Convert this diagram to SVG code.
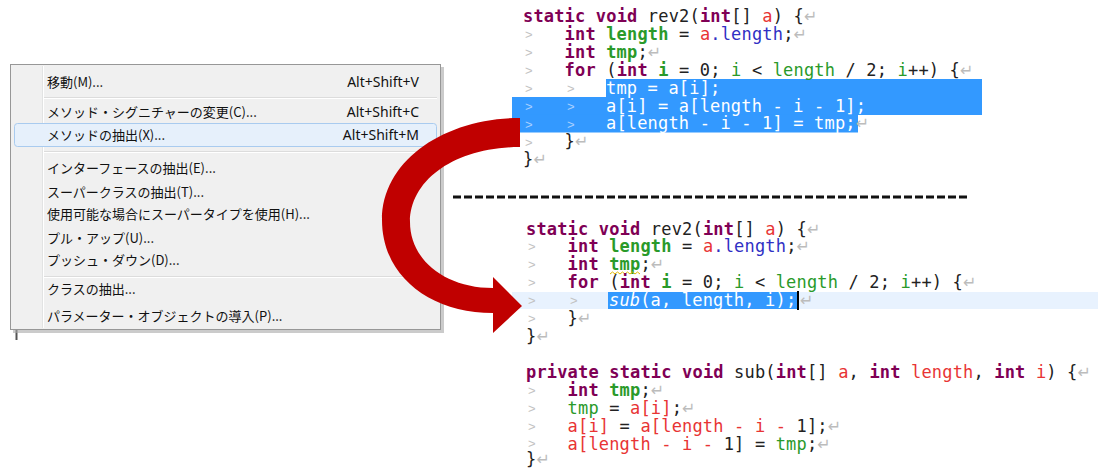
<svg xmlns="http://www.w3.org/2000/svg" width="1098" height="468" viewBox="0 0 1098 468">
<style>
.m{font-family:"Noto Sans CJK JP","Noto Sans",sans-serif;font-size:13px;fill:#111}
.sc{font-family:"Noto Sans","Liberation Sans",sans-serif;font-size:14px;fill:#111;text-anchor:end}
.c{font-family:"DejaVu Sans Mono","Liberation Mono",monospace;font-size:17px;letter-spacing:0.17px;fill:#222;white-space:pre}
.k{fill:#7f0055;font-weight:bold}
.g{fill:#2a9a2a}
.gb{fill:#2a9a2a;font-weight:bold}
.r{fill:#e83434}
.b{fill:#3030c4}
.n{fill:#bcbcbc;font-weight:normal;font-style:normal;font-family:"DejaVu Sans",sans-serif;font-size:16px}
.w{fill:#ffffff}
.t{font-family:"Liberation Sans",sans-serif;font-size:13px;fill:#c2c2c2}
.tw{font-family:"Liberation Sans",sans-serif;font-size:13px;fill:#a9d0ff}
.sep{stroke:#dcdcdc;stroke-width:1}
.sepw{stroke:#ffffff;stroke-width:1}
.sel{fill:#3399ff}
</style>

<g id="background">
  <rect x="0" y="0" width="1098" height="468" fill="#ffffff"/>
  <line x1="16.5" y1="328" x2="16.5" y2="340" stroke="#555" stroke-width="2"/>
</g>

<g id="menu">
  <rect x="13" y="67" width="431" height="266" fill="#a8a8a8" opacity="0.6"/>
  <rect x="10.5" y="64.5" width="430" height="265" fill="#f0f0f0" stroke="#979797"/>
  <line x1="42.5" y1="66" x2="42.5" y2="328" stroke="#e2e3e3"/>
  <line x1="43.5" y1="66" x2="43.5" y2="328" stroke="#ffffff"/>
  <line class="sep" x1="44" y1="97.5" x2="437" y2="97.5"/>
  <line class="sepw" x1="44" y1="98.5" x2="437" y2="98.5"/>
  <line class="sep" x1="44" y1="151.5" x2="437" y2="151.5"/>
  <line class="sepw" x1="44" y1="152.5" x2="437" y2="152.5"/>
  <line class="sep" x1="44" y1="276.5" x2="437" y2="276.5"/>
  <line class="sepw" x1="44" y1="277.5" x2="437" y2="277.5"/>
  <g id="item-move"><text class="m" x="47" y="87">移動(M)...</text><text class="sc" x="419" y="87">Alt+Shift+V</text></g>
  <g id="item-signature"><text class="m" x="47" y="117">メソッド・シグニチャーの変更(C)...</text><text class="sc" x="419" y="117">Alt+Shift+C</text></g>
  <g id="item-extract-method">
    <rect x="14.5" y="123.5" width="422" height="23" rx="3" fill="#e6f0fb" stroke="#a9cbef"/>
    <text class="m" x="47" y="140">メソッドの抽出(X)...</text><text class="sc" x="419" y="140">Alt+Shift+M</text>
  </g>
  <g id="item-interface"><text class="m" x="47" y="173">インターフェースの抽出(E)...</text></g>
  <g id="item-superclass"><text class="m" x="47" y="197">スーパークラスの抽出(T)...</text></g>
  <g id="item-supertype"><text class="m" x="47" y="219">使用可能な場合にスーパータイプを使用(H)...</text></g>
  <g id="item-pullup"><text class="m" x="47" y="243">プル・アップ(U)...</text></g>
  <g id="item-pushdown"><text class="m" x="47" y="265">プッシュ・ダウン(D)...</text></g>
  <g id="item-extract-class"><text class="m" x="47" y="294">クラスの抽出...</text></g>
  <g id="item-param-object"><text class="m" x="47" y="321">パラメーター・オブジェクトの導入(P)...</text></g>
</g>

<g id="code-before" xml:space="preserve">
  <rect class="sel" x="606" y="79" width="376" height="18.5"/>
  <rect class="sel" x="512" y="97" width="470" height="18"/>
  <rect class="sel" x="512" y="114.5" width="346" height="18"/>
  <text class="t" x="525" y="39">&gt;</text>
  <text class="t" x="525" y="57">&gt;</text>
  <text class="t" x="525" y="75">&gt;</text>
  <text class="t" x="525" y="93">&gt;</text><text class="t" x="567" y="93">&gt;</text>
  <text class="tw" x="525" y="111">&gt;</text><text class="tw" x="567" y="111">&gt;</text>
  <text class="tw" x="525" y="129">&gt;</text><text class="tw" x="567" y="129">&gt;</text>
  <text class="t" x="525" y="147">&gt;</text>
  <text class="c" x="523" y="22"><tspan class="k">static void</tspan> rev2(<tspan class="k">int</tspan>[] <tspan class="r">a</tspan>) {<tspan class="n">↵</tspan></text>
  <text class="c" x="564.6" y="39.9"><tspan class="k">int</tspan> <tspan class="gb">length</tspan> = <tspan class="r">a</tspan><tspan class="b">.length</tspan>;<tspan class="n">↵</tspan></text>
  <text class="c" x="564.6" y="57.8"><tspan class="k">int</tspan> <tspan class="gb">tmp</tspan>;<tspan class="n">↵</tspan></text>
  <text class="c" x="564.6" y="75.7"><tspan class="k">for</tspan> (<tspan class="k">int</tspan> <tspan class="gb">i</tspan> = 0; <tspan class="g">i</tspan> &lt; <tspan class="g">length</tspan> / 2; <tspan class="g">i</tspan>++) {<tspan class="n">↵</tspan></text>
  <text class="c w" x="606" y="93.6">tmp = a[i];</text>
  <text class="c w" x="606" y="111.5">a[i] = a[length - i - 1];</text>
  <text class="c w" x="606" y="129.4">a[length - i - 1] = tmp;<tspan class="n">↵</tspan></text>
  <text class="c" x="564.6" y="147.3">}<tspan class="n">↵</tspan></text>
  <text class="c" x="523" y="165.2">}<tspan class="n">↵</tspan></text>
</g>

<g id="divider">
  <line x1="453" y1="197" x2="968" y2="197" stroke="#111" stroke-width="3" stroke-dasharray="8 3"/>
</g>

<g id="code-after" xml:space="preserve">
  <rect x="512" y="292" width="586" height="17" fill="#e8f2fe"/>
  <rect class="sel" x="608" y="292" width="189" height="17"/>
  <line x1="798" y1="291" x2="798" y2="310" stroke="#000" stroke-width="2"/>
  <text class="t" x="528" y="251">&gt;</text>
  <text class="t" x="528" y="269">&gt;</text>
  <text class="t" x="528" y="287">&gt;</text>
  <text class="t" x="528" y="305">&gt;</text><text class="t" x="570" y="305">&gt;</text>
  <text class="t" x="528" y="323">&gt;</text>
  <text class="c" x="526" y="234.5"><tspan class="k">static void</tspan> rev2(<tspan class="k">int</tspan>[] <tspan class="r">a</tspan>) {<tspan class="n">↵</tspan></text>
  <text class="c" x="567.6" y="252.4"><tspan class="k">int</tspan> <tspan class="gb">length</tspan> = <tspan class="r">a</tspan><tspan class="b">.length</tspan>;<tspan class="n">↵</tspan></text>
  <text class="c" x="567.6" y="270.3"><tspan class="k">int</tspan> <tspan class="gb">tmp</tspan>;<tspan class="n">↵</tspan></text>
  <path d="M610,274 l2.5,-2 l2.5,2 l2.5,-2 l2.5,2 l2.5,-2 l2.5,2 l2.5,-2 l2.5,2 l2.5,-2 l2.5,2 l2.5,-2 l2.5,2" fill="none" stroke="#e0b800" stroke-width="1"/>
  <text class="c" x="567.6" y="288.2"><tspan class="k">for</tspan> (<tspan class="k">int</tspan> <tspan class="gb">i</tspan> = 0; <tspan class="g">i</tspan> &lt; <tspan class="g">length</tspan> / 2; <tspan class="g">i</tspan>++) {<tspan class="n">↵</tspan></text>
  <text class="c w" x="609" y="306.1"><tspan font-style="italic">sub</tspan>(a, length, i);</text>
  <text class="c" x="800" y="306.1"><tspan class="n">↵</tspan></text>
  <text class="c" x="567.6" y="324">}<tspan class="n">↵</tspan></text>
  <text class="c" x="526" y="341.9">}<tspan class="n">↵</tspan></text>
</g>

<g id="code-extracted" xml:space="preserve">
  <text class="t" x="528" y="395">&gt;</text>
  <text class="t" x="528" y="413">&gt;</text>
  <text class="t" x="528" y="431">&gt;</text>
  <text class="t" x="528" y="448">&gt;</text>
  <text class="c" x="526" y="378"><tspan class="k">private static void</tspan> sub(<tspan class="k">int</tspan>[] <tspan class="r">a</tspan>, <tspan class="k">int</tspan> <tspan class="r">length</tspan>, <tspan class="k">int</tspan> <tspan class="r">i</tspan>) {<tspan class="n">↵</tspan></text>
  <text class="c" x="567.6" y="395.9"><tspan class="k">int</tspan> <tspan class="gb">tmp</tspan>;<tspan class="n">↵</tspan></text>
  <text class="c" x="567.6" y="413.8"><tspan class="g">tmp</tspan> = <tspan class="r">a[i]</tspan>;<tspan class="n">↵</tspan></text>
  <text class="c" x="567.6" y="431.7"><tspan class="r">a[i]</tspan> = <tspan class="r">a[length - i - </tspan>1];<tspan class="n">↵</tspan></text>
  <text class="c" x="567.6" y="449.6"><tspan class="r">a[length - i - </tspan>1] = <tspan class="g">tmp</tspan>;<tspan class="n">↵</tspan></text>
  <text class="c" x="526" y="465">}<tspan class="n">↵</tspan></text>
</g>

<g id="connectors">
  <path d="M520,118 C445,118 382,160 382,220 C382,276 430,313 493,313 L493,333 L522,306 L493,277 L493,288 C445,288 410,260 410,222 C410,180 455,147 520,147 Z" fill="#c00000"/>
</g>
</svg>
